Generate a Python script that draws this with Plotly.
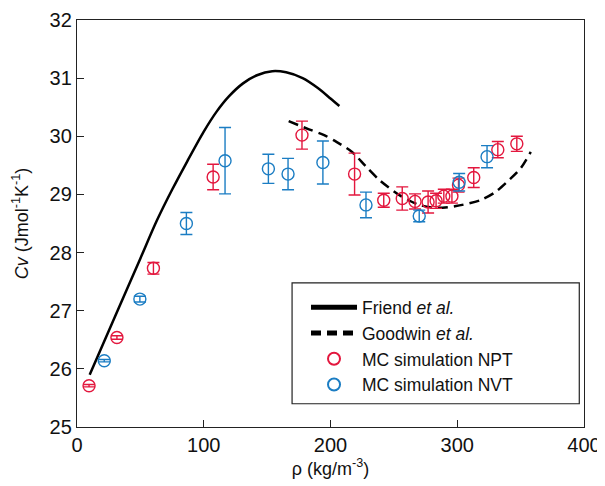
import plotly.graph_objects as go

# Friend et al. curve
friend_x = [10, 30, 50, 63, 75, 87, 100, 110, 120, 131, 142, 154, 165, 178, 190, 200, 207]
friend_y = [25.9, 26.9, 27.9, 28.55, 29.08, 29.57, 30.08, 30.42, 30.69, 30.91, 31.05, 31.12, 31.1, 31.0, 30.83, 30.65, 30.52]

# Goodwin et al. curve
goodwin_x = [167, 183, 195, 205, 217, 228, 239, 255, 270, 284, 299, 318, 330, 339, 350, 358]
goodwin_y = [30.26, 30.12, 30.02, 29.9, 29.73, 29.48, 29.24, 28.98, 28.82, 28.77, 28.8, 28.9, 29.04, 29.21, 29.45, 29.73]

# MC simulation NPT
npt_x = [9.5, 31.5, 60.3, 107.4, 177.5, 219, 242, 256.6, 266.7, 277, 283.3, 289.4, 295.8, 301, 313, 332, 347]
npt_y = [25.71, 26.54, 27.73, 29.30, 30.02, 29.35, 28.90, 28.93, 28.88, 28.87, 28.89, 28.97, 28.97, 29.16, 29.29, 29.77, 29.87]
npt_err = [0.02, 0.03, 0.1, 0.22, 0.24, 0.36, 0.12, 0.2, 0.13, 0.19, 0.13, 0.12, 0.12, 0.12, 0.17, 0.14, 0.13]

# MC simulation NVT
nvt_x = [21.5, 49.6, 86.3, 116.8, 151, 166.5, 194, 228, 270, 301.5, 323.5]
nvt_y = [26.14, 27.20, 28.50, 29.58, 29.44, 29.35, 29.55, 28.82, 28.63, 29.21, 29.65]
nvt_err = [0.02, 0.05, 0.19, 0.57, 0.25, 0.27, 0.37, 0.22, 0.1, 0.15, 0.19]

RED = "#e3173e"
BLUE = "#1b7dc3"
FONT = "Liberation Sans, Arial, sans-serif"

fig = go.Figure()
fig.add_trace(go.Scatter(x=friend_x, y=friend_y, mode="lines", name="Friend <i>et al.</i>",
                         line=dict(color="black", width=2.5, shape="spline", smoothing=0.8)))
fig.add_trace(go.Scatter(x=goodwin_x, y=goodwin_y, mode="lines", name="Goodwin <i>et al.</i>",
                         line=dict(color="black", width=2.5, dash="10px,6px", shape="spline", smoothing=0.8)))
fig.add_trace(go.Scatter(x=npt_x, y=npt_y, mode="markers", name="MC simulation NPT",
                         marker=dict(symbol="circle-open", size=12, color=RED, line=dict(width=1.4, color=RED)),
                         error_y=dict(type="data", array=npt_err, color=RED, thickness=1.4, width=6, visible=True)))
fig.add_trace(go.Scatter(x=nvt_x, y=nvt_y, mode="markers", name="MC simulation NVT",
                         marker=dict(symbol="circle-open", size=12, color=BLUE, line=dict(width=1.4, color=BLUE)),
                         error_y=dict(type="data", array=nvt_err, color=BLUE, thickness=1.4, width=6, visible=True)))

axis_common = dict(showgrid=False, zeroline=False, showline=True, linecolor="#222", linewidth=1.3,
                   mirror=True, ticks="inside", ticklen=7, tickwidth=1.2, tickcolor="#222",
                   automargin=False,
                   tickfont=dict(family=FONT, size=20, color="#111"))

# legend frame drawn as a shape (paper coordinates)
fig.add_shape(type="rect", xref="paper", yref="paper", x0=0.4242, x1=0.9907, y0=0.0571, y1=0.3539,
              line=dict(color="#222", width=1.2), fillcolor="rgba(0,0,0,0)", layer="above")

fig.update_layout(
    width=597, height=478,
    margin=dict(l=68.7, r=20.7, t=11.5, b=58.7, autoexpand=False),
    paper_bgcolor="white", plot_bgcolor="white",
    font=dict(family=FONT, size=18, color="#111"),
    xaxis=dict(range=[0, 400], dtick=100, tick0=0,
               title=dict(text="ρ (kg/m<sup>-3</sup>)", font=dict(family=FONT, size=18), standoff=4),
               **axis_common),
    yaxis=dict(range=[25, 32], dtick=1, tick0=25,
               title=dict(text="<i>Cv</i> (Jmol<sup>-1</sup>K<sup>-1</sup>)", font=dict(family=FONT, size=18), standoff=16),
               **axis_common),
    legend=dict(x=0.4517, y=0.338, xanchor="left", yanchor="top",
                borderwidth=0, bgcolor="rgba(0,0,0,0)",
                font=dict(family=FONT, size=17.5), itemsizing="constant", itemwidth=46,
                tracegroupgap=0),
    showlegend=True,
)

fig.write_html("out.html")
